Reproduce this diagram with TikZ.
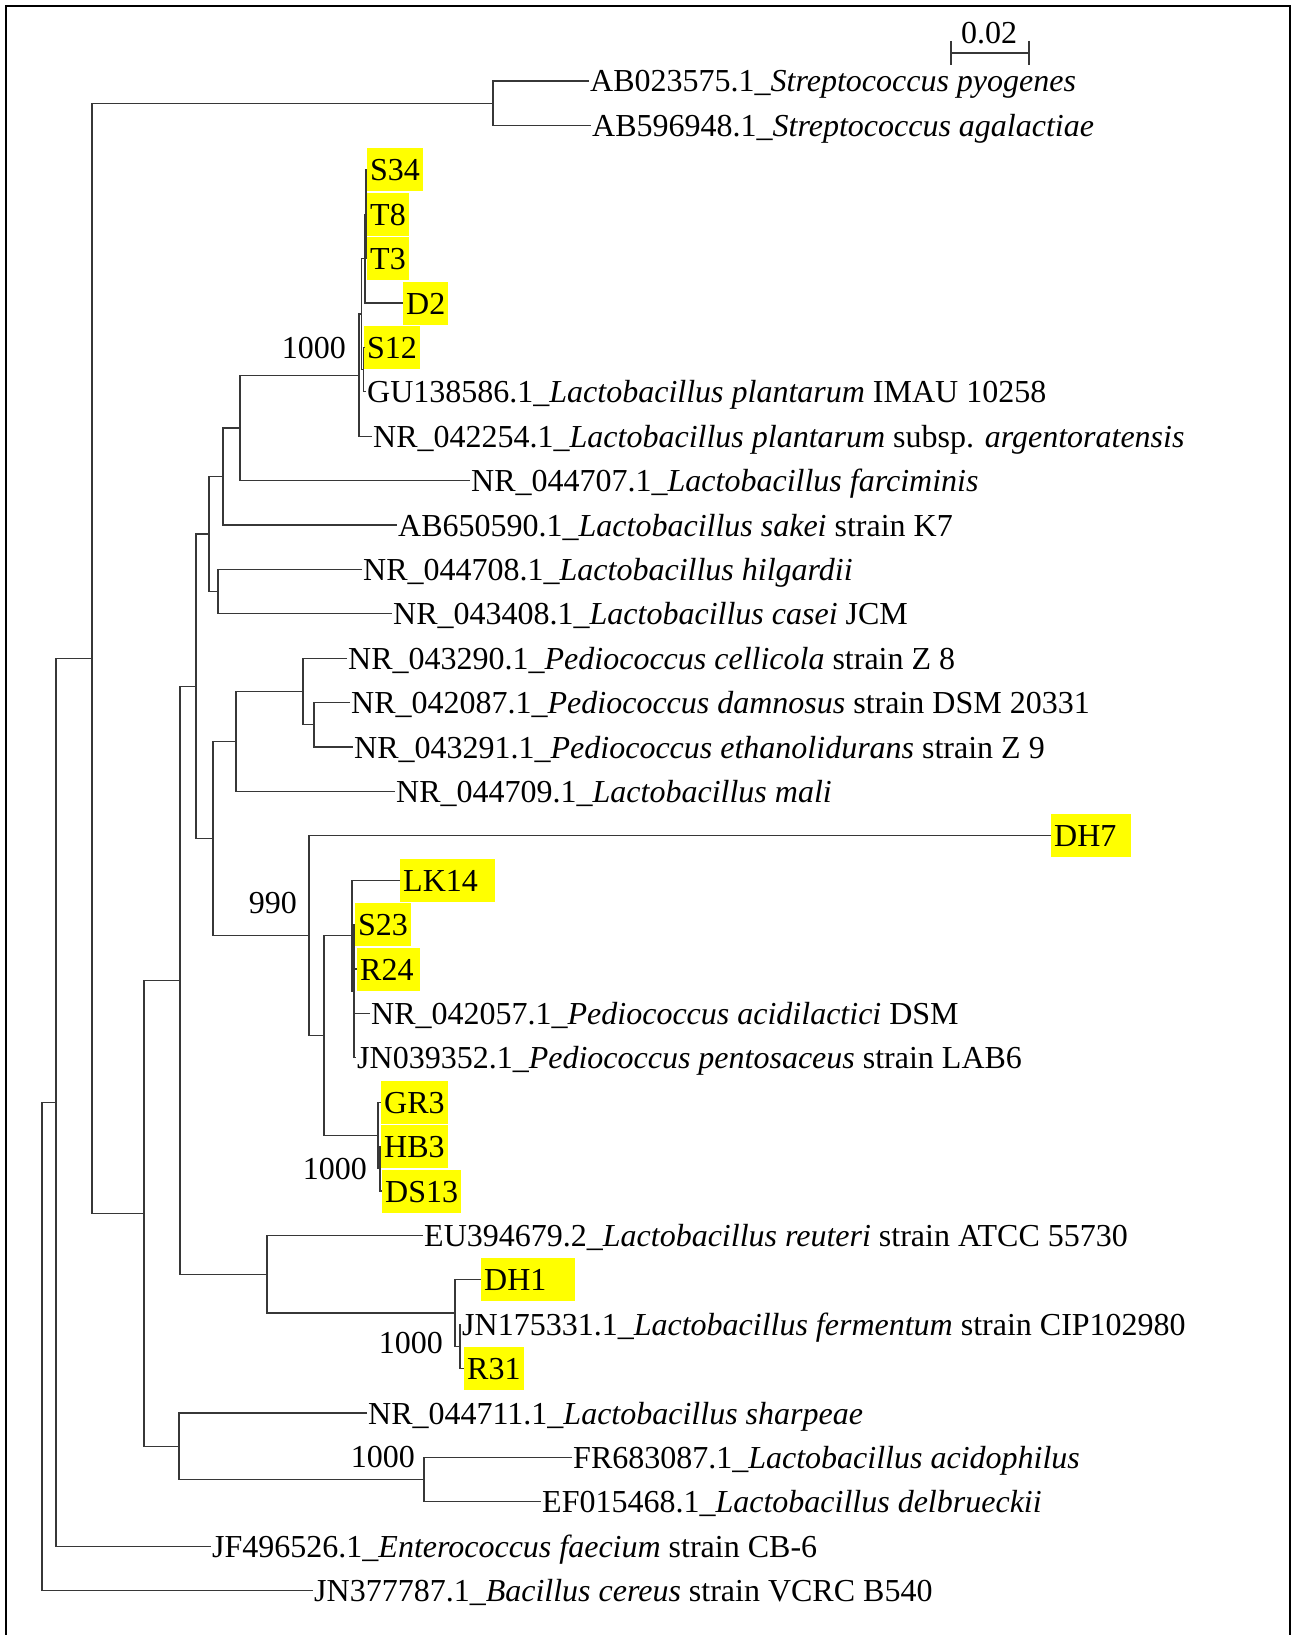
\documentclass[tikz,border=0pt]{standalone}
\usepackage{fontspec}
\setmainfont{Liberation Serif}
\usetikzlibrary{positioning}
\definecolor{hilite}{RGB}{255,255,0}
\definecolor{branch}{RGB}{55,55,55}

\begin{document}
\begin{tikzpicture}[x=1pt, y=-1pt,
    every node/.style={font=\fontsize{32}{38}\selectfont},
    leaf/.style={anchor=west, inner xsep=1pt, inner ysep=0pt, text height=22pt, text depth=0pt},
    iso/.style={leaf, fill=hilite, inner xsep=3pt, minimum height=43pt},
    boot/.style={anchor=east, inner sep=0pt, text height=22pt, text depth=0pt},
    br/.style={draw=branch, line width=1.3pt}]
  \useasboundingbox (0,0) rectangle (1299,1635);
  \draw[line width=2.5pt] (6,1635) -- (6,6) -- (1290,6) -- (1290,1635);

  % scale bar
  \coordinate (sbL) at (951,53);
  \coordinate (sbR) at (1029,53);
  \draw[br] (sbL) -- (sbR);
  \draw[br] (951,41) -- (951,65);
  \draw[br] (1029,41) -- (1029,65);
  \node[anchor=south, inner sep=0pt, text depth=0pt] (sbT) at (989,44) {0.02};

  % leaves
  \node[leaf] (spyo) at (589,81.0) {AB023575.1\_\textit{Streptococcus pyogenes}};
  \node[leaf] (saga) at (591,125.4) {AB596948.1\_\textit{Streptococcus agalactiae}};
  \node[iso] (S34) at (367,169.8) {S34};
  \node[iso] (T8) at (367,214.2) {T8};
  \node[iso] (T3) at (367,258.6) {T3};
  \node[iso] (D2) at (403,303.0) {D2};
  \node[iso] (S12) at (364,347.4) {S12};
  \node[leaf] (lpla) at (366,391.8) {GU138586.1\_\textit{Lactobacillus plantarum} IMAU 10258};
  \node[leaf] (larg) at (372,436.2) {NR\_042254.1\_\textit{Lactobacillus plantarum} subsp. \textit{argentoratensis}};
  \node[leaf] (lfar) at (470,480.6) {NR\_044707.1\_\textit{Lactobacillus farciminis}};
  \node[leaf] (lsak) at (397,525.0) {AB650590.1\_\textit{Lactobacillus sakei} strain K7};
  \node[leaf] (lhil) at (362,569.4) {NR\_044708.1\_\textit{Lactobacillus hilgardii}};
  \node[leaf] (lcas) at (392,613.8) {NR\_043408.1\_\textit{Lactobacillus casei} JCM};
  \node[leaf] (pcel) at (347,658.2) {NR\_043290.1\_\textit{Pediococcus cellicola} strain Z 8};
  \node[leaf] (pdam) at (350,702.6) {NR\_042087.1\_\textit{Pediococcus damnosus} strain DSM 20331};
  \node[leaf] (peth) at (353,747.0) {NR\_043291.1\_\textit{Pediococcus ethanolidurans} strain Z 9};
  \node[leaf] (lmal) at (395,791.4) {NR\_044709.1\_\textit{Lactobacillus mali}};
  \node[iso] (DH7) at (1051,835.8) {DH7\kern12pt};
  \node[iso] (LK14) at (400,880.2) {LK14\kern14pt};
  \node[iso] (S23) at (355,924.6) {S23};
  \node[iso] (R24) at (357,969.0) {R24\kern3pt};
  \node[leaf] (paci) at (370,1013.4) {NR\_042057.1\_\textit{Pediococcus acidilactici} DSM};
  \node[leaf] (ppen) at (356,1057.8) {JN039352.1\_\textit{Pediococcus pentosaceus} strain LAB6};
  \node[iso] (GR3) at (381,1102.2) {GR3};
  \node[iso] (HB3) at (381,1146.6) {HB3};
  \node[iso] (DS13) at (382,1191.0) {DS13};
  \node[leaf] (lreu) at (423,1235.4) {EU394679.2\_\textit{Lactobacillus reuteri} strain ATCC 55730};
  \node[iso] (DH1) at (481,1279.8) {DH1\kern26pt};
  \node[leaf] (lfer) at (461,1324.2) {JN175331.1\_\textit{Lactobacillus fermentum} strain CIP102980};
  \node[iso] (R31) at (464,1368.6) {R31};
  \node[leaf] (lsha) at (367,1413.0) {NR\_044711.1\_\textit{Lactobacillus sharpeae}};
  \node[leaf] (laci) at (572,1457.4) {FR683087.1\_\textit{Lactobacillus acidophilus}};
  \node[leaf] (ldel) at (541,1501.8) {EF015468.1\_\textit{Lactobacillus delbrueckii}};
  \node[leaf] (efae) at (211,1546.2) {JF496526.1\_\textit{Enterococcus faecium} strain CB-6};
  \node[leaf] (bcer) at (313,1590.6) {JN377787.1\_\textit{Bacillus cereus} strain VCRC B540};

  % internal nodes
  \coordinate (nStrep) at (493,103.2);
  \coordinate (nR2) at (366,214.2);
  \coordinate (nR) at (365,258.6);
  \coordinate (nS) at (363.5,369.6);
  \coordinate (nQ) at (361.5,314.1);
  \coordinate (nP) at (359,375.2);
  \coordinate (nF) at (240,427.9);
  \coordinate (nG) at (223,476.4);
  \coordinate (nI) at (218,591.6);
  \coordinate (nH) at (209,534.0);
  \coordinate (nBB) at (314,724.8);
  \coordinate (nAA) at (303,691.5);
  \coordinate (nPd) at (236,741.5);
  \coordinate (nU2) at (354,991.2);
  \coordinate (nU) at (352,935.7);
  \coordinate (nHD) at (380,1168.8);
  \coordinate (nGR) at (378,1135.5);
  \coordinate (nT) at (324,1035.6);
  \coordinate (nDH) at (309,935.7);
  \coordinate (nO) at (213,838.6);
  \coordinate (nJ) at (196,686.3);
  \coordinate (nX) at (460,1346.4);
  \coordinate (nW) at (455,1313.1);
  \coordinate (nV) at (267,1274.3);
  \coordinate (nN) at (180,980.3);
  \coordinate (nZ) at (424,1479.6);
  \coordinate (nY) at (179,1446.3);
  \coordinate (nL) at (144,1213.3);
  \coordinate (nK) at (92,658.3);
  \coordinate (nM) at (56,1102.3);
  \coordinate (nRoot) at (42,1346.5);

  % branches
  \draw[br] (spyo.west) -| (nStrep) |- (saga.west);
  \draw[br] (S34.west) -| (nR2) |- (T3.west);
  \draw[br] (T8.west) -| (nR2);
  \draw[br] (nR2) -| (nR) |- (D2.west);
  \draw[br] (S12.west) -| (nS) |- (lpla.west);
  \draw[br] (nR) -| (nQ) |- (nS);
  \draw[br] (nQ) -| (nP) |- (larg.west);
  \draw[br] (nP) -| (nF) |- (lfar.west);
  \draw[br] (nF) -| (nG) |- (lsak.west);
  \draw[br] (lhil.west) -| (nI) |- (lcas.west);
  \draw[br] (nG) -| (nH) |- (nI);
  \draw[br] (pdam.west) -| (nBB) |- (peth.west);
  \draw[br] (pcel.west) -| (nAA) |- (nBB);
  \draw[br] (nAA) -| (nPd) |- (lmal.west);
  \draw[br] (S23.west) -| (nU2) |- (ppen.west);
  \draw[br] (R24.west) -| (nU2);
  \draw[br] (paci.west) -| (nU2);
  \draw[br] (LK14.west) -| (nU) |- (nU2);
  \draw[br] (HB3.west) -| (nHD) |- (DS13.west);
  \draw[br] (GR3.west) -| (nGR) |- (nHD);
  \draw[br] (nU) -| (nT) |- (nGR);
  \draw[br] (DH7.west) -| (nDH) |- (nT);
  \draw[br] (nPd) -| (nO) |- (nDH);
  \draw[br] (nH) -| (nJ) |- (nO);
  \draw[br] (lfer.west) -| (nX) |- (R31.west);
  \draw[br] (DH1.west) -| (nW) |- (nX);
  \draw[br] (lreu.west) -| (nV) |- (nW);
  \draw[br] (nJ) -| (nN) |- (nV);
  \draw[br] (laci.west) -| (nZ) |- (ldel.west);
  \draw[br] (lsha.west) -| (nY) |- (nZ);
  \draw[br] (nN) -| (nL) |- (nY);
  \draw[br] (nStrep) -| (nK) |- (nL);
  \draw[br] (nK) -| (nM) |- (efae.west);
  \draw[br] (nM) -| (nRoot) |- (bcer.west);

  % bootstrap values
  \node[boot] (bP) at (346,347) {1000};
  \node[boot] (bDH) at (297,902) {990};
  \node[boot] (bGR) at (367,1168) {1000};
  \node[boot] (bW) at (443,1342) {1000};
  \node[boot] (bZ) at (415,1456) {1000};
\end{tikzpicture}
\end{document}
